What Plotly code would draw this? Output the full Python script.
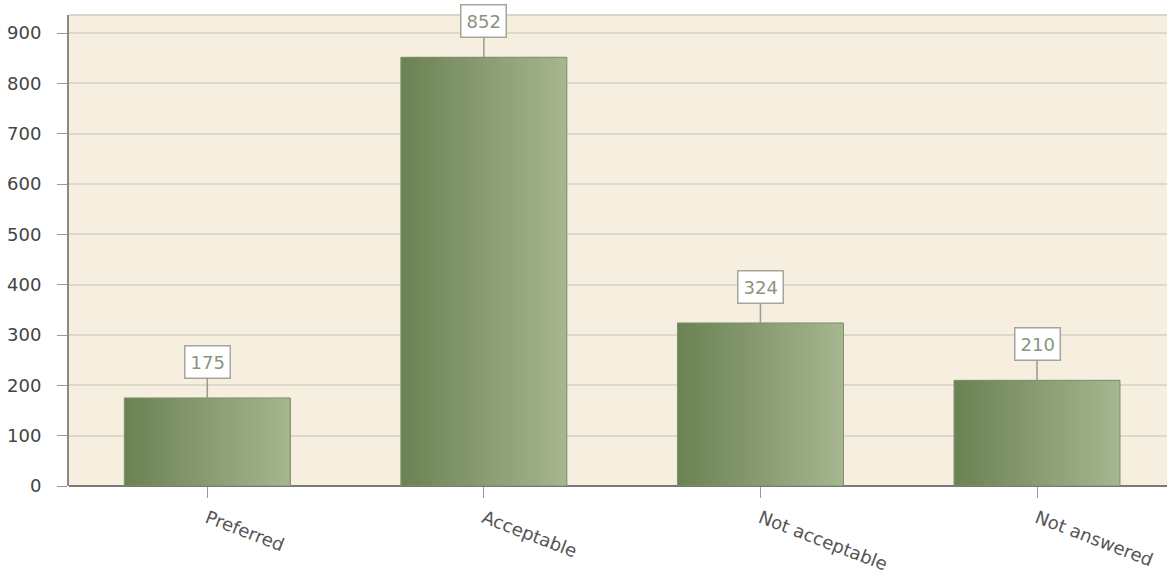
import plotly.graph_objects as go

categories = ["Preferred", "Acceptable", "Not acceptable", "Not answered"]
values = [175, 852, 324, 210]
y_ticks = [0, 100, 200, 300, 400, 500, 600, 700, 800, 900]

BAR_W = 0.6
N = 60
c0 = (107, 130, 84)
c1 = (166, 182, 143)

fig = go.Figure()
for k in range(N):
    t = k / (N - 1)
    col = "rgb(%d,%d,%d)" % tuple(round(a + (b - a) * t) for a, b in zip(c0, c1))
    fig.add_trace(go.Bar(
        x=categories, y=values, width=BAR_W * (1 - k / N),
        offset=-BAR_W / 2 + k * BAR_W / N,
        marker=dict(color=col, line=dict(width=0)),
        showlegend=False, hoverinfo="skip"))
fig.add_trace(go.Bar(
    x=categories, y=values, width=BAR_W, offset=-BAR_W / 2,
    marker=dict(color="rgba(0,0,0,0)", line=dict(color="#7f8f6c", width=1)),
    showlegend=False))

for c, v in zip(categories, values):
    fig.add_annotation(
        x=c, y=v, text=str(v), showarrow=True, arrowhead=0, arrowwidth=1.5,
        arrowcolor="#9a9a90", ax=0, ay=-36, standoff=0,
        bgcolor="white", bordercolor="#a4a69c", borderwidth=1.5, borderpad=5,
        font=dict(family="DejaVu Sans", size=18, color="#8a9480"))

fig.add_shape(type="line", xref="paper", yref="paper", x0=0, x1=1, y0=1, y1=1,
              line=dict(color="#d8d4c8", width=2))

fig.update_layout(
    width=1167, height=574,
    margin=dict(l=69, r=0, t=15, b=88),
    barmode="overlay",
    paper_bgcolor="white", plot_bgcolor="#f6efe0",
    font=dict(family="DejaVu Sans", color="#444"),
    xaxis=dict(range=[-0.5, 3.47], showgrid=False, ticks="outside", ticklen=11,
               tickcolor="#999", tickangle=21, tickfont=dict(size=18, color="#555"),
               ticklabelstandoff=3,
               showline=False, zeroline=False),
    yaxis=dict(range=[0, 936], tickvals=y_ticks, showgrid=True, gridcolor="#ddd8c9",
               gridwidth=2, ticks="outside", ticklen=10, tickcolor="#999",
               tickfont=dict(size=18, color="#444"), ticklabelstandoff=12,
               showline=True, linecolor="#8a8a84", linewidth=2,
               zeroline=True, zerolinecolor="#7a7a74", zerolinewidth=2),
)

fig.write_html("out.html", config={"displayModeBar": False},
               post_script="document.body.style.margin='0';")
